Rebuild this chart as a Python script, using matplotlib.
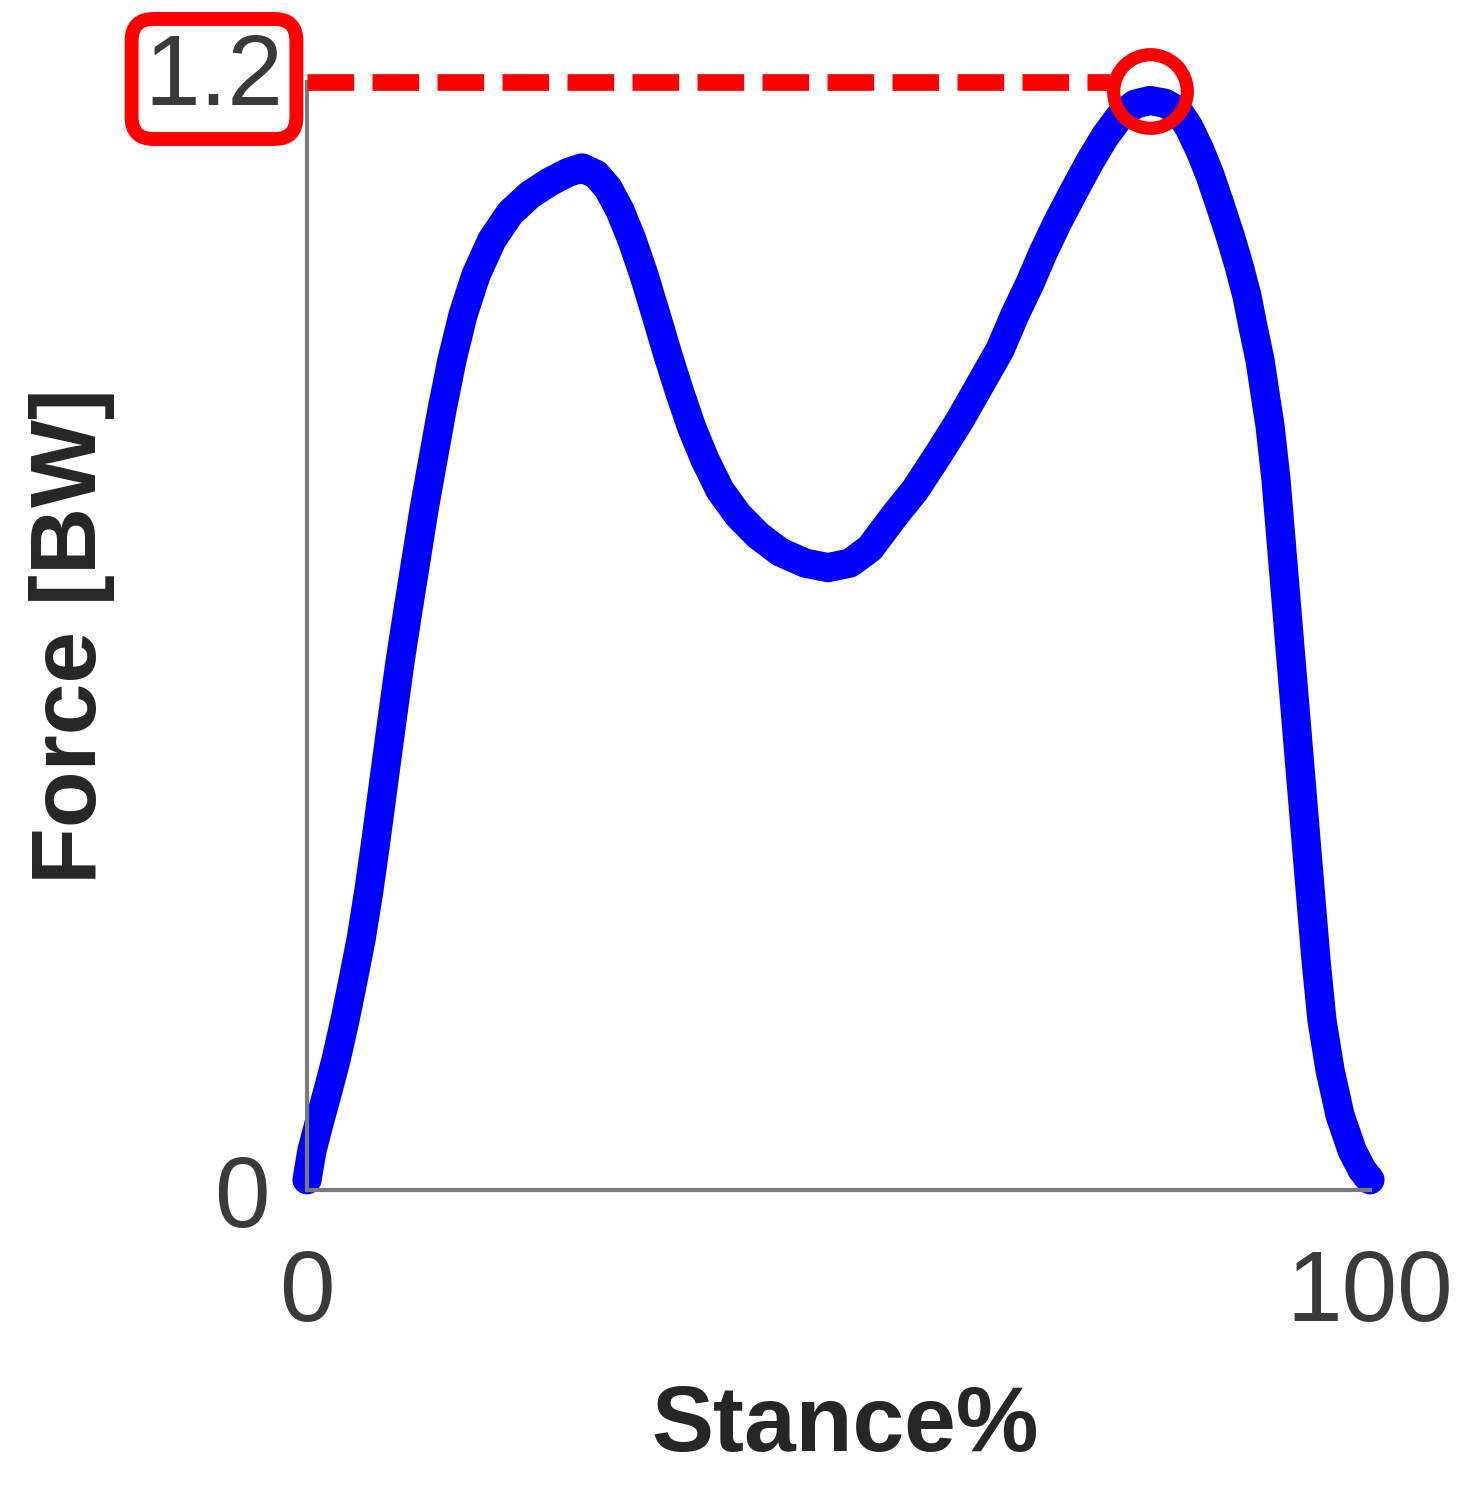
import numpy as np
import matplotlib
matplotlib.use('Agg')
import matplotlib.pyplot as plt

plt.rcParams['font.family'] = ['Liberation Sans', 'DejaVu Sans']

# vertical ground reaction force over stance
stance = [0.0, 0.47, 1.22, 1.98, 2.73, 3.57, 4.33, 5.08, 5.83, 6.49,
          7.24, 8.00, 8.75, 9.50, 10.25, 11.01, 11.85, 12.70, 13.64, 14.68,
          15.90, 17.40, 19.10, 20.98, 22.86, 24.55, 25.87, 27.19, 28.32, 29.44,
          30.57, 31.70, 32.83, 33.96, 35.09, 36.22, 37.44, 38.85, 40.55, 42.43,
          44.50, 46.85, 49.01, 51.08, 52.96, 55.31, 57.20, 59.36, 61.43, 63.31,
          65.19, 66.60, 68.01, 69.24, 70.65, 72.25, 73.66, 75.07, 76.48, 77.89,
          79.30, 80.71, 81.94, 82.97, 84.01, 84.95, 85.89, 86.83, 87.68, 88.43,
          88.99, 89.65, 90.12, 90.59, 91.16, 91.63, 92.10, 92.57, 93.04, 93.51,
          93.98, 94.45, 94.92, 95.48, 96.24, 97.18, 98.31, 99.25, 100.0]
force = [0.011, 0.043, 0.076, 0.108, 0.141, 0.184, 0.227, 0.271, 0.325, 0.379,
         0.444, 0.509, 0.572, 0.628, 0.682, 0.737, 0.791, 0.845, 0.899, 0.948,
         0.991, 1.029, 1.058, 1.078, 1.092, 1.102, 1.107, 1.100, 1.085, 1.061,
         1.029, 0.991, 0.948, 0.904, 0.863, 0.825, 0.791, 0.758, 0.731, 0.709,
         0.691, 0.679, 0.674, 0.679, 0.695, 0.731, 0.758, 0.796, 0.834, 0.872,
         0.910, 0.948, 0.982, 1.015, 1.049, 1.084, 1.114, 1.141, 1.163, 1.176,
         1.180, 1.177, 1.169, 1.151, 1.126, 1.099, 1.067, 1.034, 1.001, 0.968,
         0.935, 0.899, 0.863, 0.828, 0.769, 0.704, 0.639, 0.574, 0.509, 0.444,
         0.379, 0.314, 0.249, 0.184, 0.130, 0.081, 0.043, 0.022, 0.011]

peak_x, peak_y = 79.3, 1.19
ref_level = 1.2
ref_line_x = [0, 75.5]

xticks = [0, 100]
yticks = [0, ref_level]
ytick_labels = ['0', '']

fig = plt.figure(figsize=(14.74, 14.85), dpi=100)
ax = fig.add_axes([307/1474, 295/1485, 1063/1474, 1108/1485])

ax.plot(stance, force, color='#0000ff', lw=21, solid_capstyle='round',
        solid_joinstyle='round', clip_on=False, zorder=2)
ax.plot(ref_line_x, [ref_level, ref_level], color='#ff0000', lw=12,
        dashes=(2.8, 1.1), clip_on=False, zorder=3)
ax.plot([peak_x], [peak_y], 'o', ms=53, mfc='none', mec='#ff0000', mew=9.5,
        clip_on=False, zorder=4)

ax.set_xlim(0, 100)
ax.set_ylim(0, ref_level)
ax.set_xticks(xticks)
ax.set_yticks(yticks)
ax.set_yticklabels(ytick_labels)

for side in ['top', 'right']:
    ax.spines[side].set_visible(False)
for side in ['left', 'bottom']:
    ax.spines[side].set_color('#7a7a7a')
    ax.spines[side].set_linewidth(3)

ax.tick_params(axis='both', length=0, labelsize=72, labelcolor='#3a3a3a')
ax.tick_params(axis='y', pad=27)
ax.tick_params(axis='x', pad=42)

# boxed value for the 1.2 level
ax.annotate('1.2', xy=(0, ref_level), xycoords=('axes fraction', 'data'),
            xytext=(-93, -23), textcoords='offset pixels',
            ha='center', va='baseline', fontsize=72, color='#3a3a3a',
            annotation_clip=False, zorder=5,
            bbox=dict(boxstyle='round,pad=0.13,rounding_size=0.22',
                      fc='white', ec='#ff0000', lw=10))

ax.set_xlabel('Stance%', fontsize=67, fontweight='bold', color='#262626')
ax.set_ylabel('Force [BW]', fontsize=67, fontweight='bold', color='#262626')
ax.xaxis.set_label_coords(0.506, -0.175)
ax.yaxis.set_label_coords(-0.181, 0.5)

fig.savefig('out.png', dpi=100, facecolor='white')
